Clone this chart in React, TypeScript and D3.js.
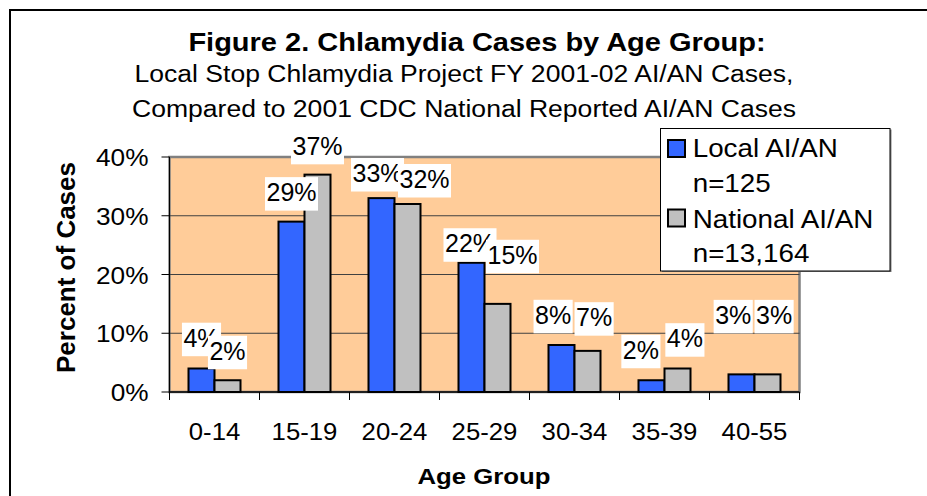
import React from "react";
import * as d3 from "d3";

const categories = ["0-14", "15-19", "20-24", "25-29", "30-34", "35-39", "40-55"];
const localValues = [4, 29, 33, 22, 8, 2, 3];
const nationalValues = [2, 37, 32, 15, 7, 4, 3];
const yTicks = [0, 10, 20, 30, 40];
const seriesNames = ["Local AI/AN", "National AI/AN"];
const seriesCounts = ["n=125", "n=13,164"];
const seriesColors = ["#3366FF", "#C0C0C0"];

// layout nudges for the manually placed data labels (px)
const localLabelDx = [0, 0, -4, -1.5, -8.4, -10.6, -8.3];
const localLabelLift = [12.3, 11, 6.6, 1, 11.7, 12, 41];
const nationalLabelDx = [0, 0, 17, 15, 6.6, 7.4, 6.6];
const nationalLabelLift = [11, 10.3, 6.5, 30.6, 15.2, 11.8, 41];

const FONT = "'Liberation Sans', Arial, Helvetica, sans-serif";

function T(props: any) {
  const { x, y, sx = 1, anchor = "start", size, weight = "normal", children, rotate = 0 } = props;
  return (
    <text
      transform={`translate(${x},${y}) rotate(${rotate}) scale(${sx},1)`}
      textAnchor={anchor}
      fontSize={size}
      fontWeight={weight}
      fontFamily={FONT}
      fill="#000"
    >
      {children}
    </text>
  );
}

function labelWidth(s: string, size: number) {
  let w = 0;
  for (const c of s) w += c === "%" ? 0.889 : 0.556;
  return w * size;
}

export default function App() {
  const left = 169.5, right = 799.5, top = 157, bottom = 392;
  const x = d3.scaleBand<string>().domain(categories).range([left, right]).paddingInner(0).paddingOuter(0);
  const inner = d3.scaleBand<number>().domain([0, 1]).range([19, 71]).padding(0);
  const y = d3.scaleLinear().domain([0, 40]).range([bottom, top]);
  const series = [localValues, nationalValues];
  const dxs = [localLabelDx, nationalLabelDx];
  const lifts = [localLabelLift, nationalLabelLift];
  const LBL = 25;

  return (
    <svg width={927} height={496} style={{ position: "absolute", left: 0, top: 0, background: "#fff" }}>
      <rect x={10} y={10} width={940} height={510} fill="#fff" stroke="#000" strokeWidth={2} />
      <T x={477} y={51} sx={1.16} anchor="middle" size={25} weight="bold">Figure 2. Chlamydia Cases by Age Group:</T>
      <T x={464} y={82} sx={1.13} anchor="middle" size={23.5}>Local Stop Chlamydia Project FY 2001-02 AI/AN Cases,</T>
      <T x={464} y={117} sx={1.13} anchor="middle" size={23.5}>Compared to 2001 CDC National Reported AI/AN Cases</T>

      {/* plot area */}
      <rect x={left} y={top} width={right - left} height={bottom - top} fill="#FFCC99" stroke="#808080" strokeWidth={2.5} />
      {yTicks.filter((t) => t > 0 && t < 40).map((t) => (
        <line key={t} x1={left} x2={right} y1={y(t)} y2={y(t)} stroke="#404040" strokeWidth={1} />
      ))}

      {/* bars */}
      {series.map((vals, si) =>
        vals.map((v, i) => (
          <rect
            key={`${si}-${i}`}
            x={(x(categories[i]) as number) + (inner(si) as number)}
            y={y(v)}
            width={inner.bandwidth()}
            height={y(0) - y(v)}
            fill={seriesColors[si]}
            stroke="#000"
            strokeWidth={2}
          />
        ))
      )}

      {/* axes */}
      <line x1={left} x2={left} y1={top} y2={bottom} stroke="#000" strokeWidth={1} />
      <line x1={left} x2={right} y1={bottom} y2={bottom} stroke="#000" strokeWidth={1.5} />
      {yTicks.map((t) => (
        <g key={t}>
          <line x1={left - 8} x2={left} y1={y(t)} y2={y(t)} stroke="#000" strokeWidth={1} />
          <T x={148.5} y={y(t) + 9} sx={1.07} anchor="end" size={24.5}>{`${t}%`}</T>
        </g>
      ))}
      {[...categories.map((c) => x(c) as number), right].map((px, i) => (
        <line key={i} x1={px} x2={px} y1={bottom} y2={bottom + 8} stroke="#000" strokeWidth={1} />
      ))}
      {categories.map((c) => (
        <T key={c} x={(x(c) as number) + x.bandwidth() / 2} y={439.5} sx={1.05} anchor="middle" size={24.5}>{c}</T>
      ))}

      {/* data labels */}
      {series.map((vals, si) =>
        vals.map((v, i) => {
          const s = `${v}%`;
          const cx = (x(categories[i]) as number) + (inner(si) as number) + inner.bandwidth() / 2 + dxs[si][i];
          const b = y(v) - lifts[si][i];
          const w = labelWidth(s, LBL) + 3;
          return (
            <g key={`l${si}-${i}`}>
              <rect x={cx - w / 2} y={b - 33.5} width={w} height={33.5} fill="#fff" />
              <T x={cx} y={b - 9.3} anchor="middle" size={LBL}>{s}</T>
            </g>
          );
        })
      )}

      {/* axis titles */}
      <T x={484} y={484} sx={1.12} anchor="middle" size={23} weight="bold">Age Group</T>
      <T x={75} y={267.5} rotate={-90} anchor="middle" size={26} weight="bold">Percent of Cases</T>

      {/* legend */}
      <rect x={662} y={129.5} width={229.5} height={142.5} fill="#808080" />
      <rect x={660.5} y={128.5} width={229.5} height={142.5} fill="#fff" stroke="#000" strokeWidth={1} />
      {seriesNames.map((n, si) => (
        <g key={n}>
          <rect x={668} y={si === 0 ? 140 : 209.5} width={17} height={17} fill={seriesColors[si]} stroke="#000" strokeWidth={2} />
          <T x={692.7} y={si === 0 ? 157 : 227.5} sx={1.09} size={25.5}>{n}</T>
          <T x={692.7} y={si === 0 ? 192 : 262} sx={1.09} size={25.5}>{seriesCounts[si]}</T>
        </g>
      ))}
    </svg>
  );
}
